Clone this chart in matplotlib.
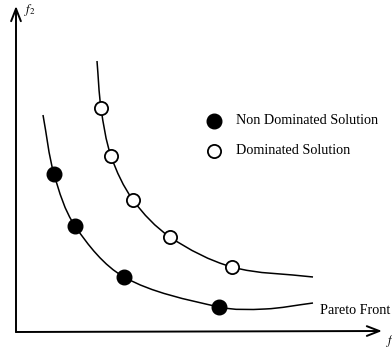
import numpy as np
import matplotlib
matplotlib.use("Agg")
import matplotlib.pyplot as plt
from matplotlib.path import Path
from matplotlib.patches import PathPatch

plt.rcParams['font.family'] = ['Liberation Serif', 'DejaVu Serif']
plt.rcParams['mathtext.fontset'] = 'stix'

# Dominated (upper) curve knots and open markers
dom_curve_f1 = [81, 85, 95, 117, 154, 216, 297]
dom_curve_f2 = [271, 224, 176, 132, 95, 65, 55]
dom_f1 = [85, 95, 117, 154, 216]
dom_f2 = [224, 176, 132, 95, 65]

# Pareto front (lower) curve knots and filled markers
par_curve_f1 = [27, 38, 59, 108, 203, 249, 297]
par_curve_f2 = [217, 158, 106, 55, 25, 23, 29]
par_f1 = [38, 59, 108, 203]
par_f2 = [158, 106, 55, 25]

legend_labels = ["Non Dominated Solution", "Dominated Solution"]
front_label = "Pareto Front"


def smooth_path(xs, ys):
    p = np.column_stack([xs, ys]).astype(float)
    n = len(p)
    d = np.linalg.norm(np.diff(p, axis=0), axis=1)
    m = np.zeros_like(p)
    for i in range(n):
        if i == 0:
            m[i] = (p[1] - p[0]) / d[0]
        elif i == n - 1:
            m[i] = (p[-1] - p[-2]) / d[-1]
        else:
            m[i] = (p[i + 1] - p[i - 1]) / (d[i - 1] + d[i])
    verts = [p[0]]
    codes = [Path.MOVETO]
    for i in range(n - 1):
        c1 = p[i] + m[i] * d[i] / 3.0
        c2 = p[i + 1] - m[i + 1] * d[i] / 3.0
        verts += [c1, c2, p[i + 1]]
        codes += [Path.CURVE4] * 3
    return Path(verts, codes)


fig = plt.figure(figsize=(3.92, 3.51), dpi=100)
ax = fig.add_axes([0, 0, 1, 1])
ax.set_xlim(-16, 376)
ax.set_ylim(-19, 332)
ax.axis('off')

for xs, ys in [(dom_curve_f1, dom_curve_f2), (par_curve_f1, par_curve_f2)]:
    ax.add_patch(PathPatch(smooth_path(xs, ys), facecolor='none',
                           edgecolor='black', lw=1.1, zorder=2))

ax.plot(par_f1, par_f2, 'o', ms=10.5, mfc='black', mec='black', mew=1.0, zorder=3)
ax.plot(dom_f1, dom_f2, 'o', ms=9.5, mfc='white', mec='black', mew=1.3, zorder=3)

# axes arrows
arrow = dict(arrowstyle='->,head_length=0.9,head_width=0.35', lw=1.4, color='black',
             shrinkA=0, shrinkB=0)
ax.annotate('', xy=(0, 326), xytext=(0, 0), arrowprops=arrow)
ax.annotate('', xy=(366, 1), xytext=(0, 0), arrowprops=arrow)
ax.text(8, 322, r'$f_2$', fontsize=9, ha='left', va='center')
ax.text(370, -9, r'$f_1$', fontsize=9, ha='left', va='center')

# legend
ax.plot([198], [211], 'o', ms=10.5, mfc='black', mec='black')
ax.plot([198], [181], 'o', ms=9.5, mfc='white', mec='black', mew=1.3)
ax.text(220, 211, legend_labels[0], fontsize=10.2, ha='left', va='center')
ax.text(220, 181, legend_labels[1], fontsize=10.2, ha='left', va='center')
ax.text(304, 22, front_label, fontsize=10.2, ha='left', va='center')

fig.savefig('out.png', dpi=100)
